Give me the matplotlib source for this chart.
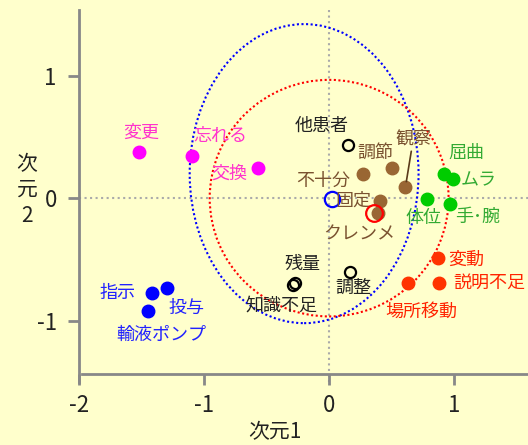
import matplotlib
matplotlib.use("Agg")
from matplotlib import pyplot as plt
from matplotlib.patches import Ellipse

plt.rcParams['font.family'] = ['Noto Sans CJK JP', 'DejaVu Sans']

# ---- data (dimension 1, dimension 2) ----
magentaLabels = ['変更', '忘れる', '交換']
magentaX = [-1.52, -1.10, -0.57]
magentaY = [0.38, 0.34, 0.25]

brownLabels = ['不十分', '調節', '観察', '固定', 'クレンメ']
brownX = [0.27, 0.50, 0.61, 0.41, 0.39]
brownY = [0.20, 0.25, 0.09, -0.02, -0.12]

greenLabels = ['屈曲', 'ムラ', '体位', '手･腕']
greenX = [0.92, 0.99, 0.78, 0.97]
greenY = [0.20, 0.16, -0.01, -0.05]

redLabels = ['変動', '説明不足', '場所移動']
redX = [0.87, 0.88, 0.63]
redY = [-0.49, -0.69, -0.69]

blueLabels = ['指示', '投与', '輸液ポンプ']
blueX = [-1.42, -1.30, -1.45]
blueY = [-0.77, -0.73, -0.92]

blackLabels = ['他患者', '残量', '知識不足', '調整']
blackX = [0.15, -0.27, -0.285, 0.17]
blackY = [0.43, -0.69, -0.705, -0.60]

# group centres and spread ellipses
blueCentre = (0.02, -0.01)
redCentre = (0.36, -0.12)
blueEllipse = (-0.20, 0.20, 1.83, 2.44)   # x, y, width, height
redEllipse = (0.0, 0.0, 1.91, 1.93)

# label offsets in pixels (dx, dy)
offsets = {
    '変更': (2, 19), '忘れる': (29, 20), '交換': (-29, -6),
    '他患者': (-26, 20), '不十分': (-40, -7), '調節': (-16, 15),
    '観察': (8, 49), '固定': (-27, 0), 'クレンメ': (-19, -22),
    '屈曲': (22, 21), 'ムラ': (26, -2), '体位': (-3, -19), '手･腕': (27, -13),
    '残量': (7, 19), '知識不足': (-12, -21), '調整': (3, -16),
    '変動': (28, -2), '説明不足': (50, 0), '場所移動': (13, -29),
    '指示': (-34, 0), '投与': (20, -20), '輸液ポンプ': (14, -24),
}

bg = '#ffffcc'
fig = plt.figure(figsize=(5.28, 4.45), dpi=100, facecolor=bg)
ax = fig.add_axes([79/528, (445-382)/445, (528-79)/528, (382-10)/445])
ax.set_facecolor(bg)
ax.set_xlim(-2.0, 1.59)
ax.set_ylim(-1.50, 1.535)

ax.axvline(0, color='#aaaaaa', linestyle=':', linewidth=1.5, zorder=1)
ax.axhline(0, color='#aaaaaa', linestyle=':', linewidth=1.5, zorder=1)

for (cx, cy, w, h), col in [(blueEllipse, '#0000ff'), (redEllipse, '#ff0000')]:
    ax.add_patch(Ellipse((cx, cy), w, h, fill=False, edgecolor=col,
                         linestyle=(0, (1, 1.2)), linewidth=1.5, zorder=2))

def drawGroup(xs, ys, labels, pointColor, textColor, filled=True, ms=9):
    if filled:
        ax.plot(xs, ys, 'o', color=pointColor, markersize=ms, zorder=3)
    else:
        ax.plot(xs, ys, 'o', markerfacecolor='none', markeredgecolor=pointColor,
                markeredgewidth=1.6, markersize=ms, zorder=3)
    for x, y, lab in zip(xs, ys, labels):
        dx, dy = offsets[lab]
        if lab == '観察':
            ax.annotate(lab, (x, y), xytext=(dx, dy), textcoords='offset pixels',
                        ha='center', va='center', fontsize=13, color=textColor,
                        arrowprops=dict(arrowstyle='-', color='#5a3a1a', lw=1.2,
                                        shrinkA=1, shrinkB=4), zorder=4)
        else:
            ax.annotate(lab, (x, y), xytext=(dx, dy), textcoords='offset pixels',
                        ha='center', va='center', fontsize=13, color=textColor,
                        zorder=4)

drawGroup(magentaX, magentaY, magentaLabels, '#ff00ff', '#ff33cc')
drawGroup(brownX, brownY, brownLabels, '#996633', '#7a5230')
drawGroup(greenX, greenY, greenLabels, '#00cc00', '#33aa33')
drawGroup(redX, redY, redLabels, '#ff3300', '#ff2200')
drawGroup(blueX, blueY, blueLabels, '#0000ff', '#2222ff')
drawGroup(blackX, blackY, blackLabels, '#000000', '#222222', filled=False, ms=8)

ax.plot([blueCentre[0]], [blueCentre[1]], 'o', markerfacecolor='none',
        markeredgecolor='#0000ff', markeredgewidth=1.6, markersize=11, zorder=3)
ax.plot([redCentre[0]], [redCentre[1]], 'o', markerfacecolor='none',
        markeredgecolor='#ff0000', markeredgewidth=1.6, markersize=12, zorder=5)

# R-like detached axes
for s in ['top', 'right']:
    ax.spines[s].set_visible(False)
ax.spines['bottom'].set_position(('data', -1.437))
ax.spines['bottom'].set_bounds(-1.975, 1.59)
for s in ['left', 'bottom']:
    ax.spines[s].set_color('#888888')
    ax.spines[s].set_linewidth(2)
ax.set_xticks([-2, -1, 0, 1])
ax.set_xticklabels(['-2', '-1', '0', '1'])
ax.set_yticks([-1, 0, 1])
ax.set_yticklabels(['-1', '0', '1'])
ax.tick_params(axis='both', colors='#888888', width=2, length=8,
               labelcolor='#222222', labelsize=16)
ax.tick_params(axis='x', pad=6)
ax.tick_params(axis='y', pad=8)

fig.text(275/528, 1 - 432/445, '次元1', ha='center', va='center',
         fontsize=15, color='#222222')
fig.text(27/528, 1 - 190/445, '次\n元\n2', ha='center', va='center',
         fontsize=15, color='#222222', linespacing=1.25)

fig.savefig('out.png', dpi=100, facecolor=bg)
